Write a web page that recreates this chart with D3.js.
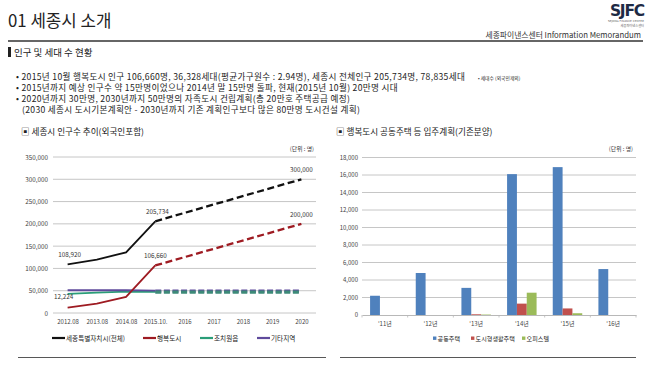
<!DOCTYPE html>
<html><head><meta charset="utf-8">
<script src="https://cdn.jsdelivr.net/npm/d3@7"></script>
<style>
html,body{margin:0;padding:0;background:#fff;}
svg{display:block;font-family:"Noto Sans CJK KR","Noto Sans",sans-serif;}
</style></head>
<body><svg id="c" width="654" height="367"></svg>
<script>
// ---------- data ----------
const lineCats = ["2012.08","2013.08","2014.08","2015.10.","2016","2017","2018","2019","2020"];
const lineTicks = [0,50000,100000,150000,200000,250000,300000,350000];
const seriesNames = ["세종특별자치시(전체)","행복도시","조치원읍","기타지역"];
const totalActual = [108920,120000,136000,205734];
const totalPlanCats = ["2015.10.","2020"];
const totalPlan = [205734,300000];
const happyActual = [12224,21000,36000,106660];
const happyPlan = [106660,200000];
const jochiwonActual = [43000,45500,48000,47500];
const jochiwonPlan = [47000,47000];
const otherActual = [51000,51000,51500,50000];
const otherPlan = [49000,49000];
const actualCats = ["2012.08","2013.08","2014.08","2015.10."];

const barCats = ["'11년","'12년","'13년","'14년","'15년","'16년"];
const barSeries = ["공동주택","도시형생활주택","오피스텔"];
const apartment = [2200,4800,3100,16100,16900,5250];
const urbanHousing = [0,0,80,1300,750,0];
const officetel = [0,0,50,2550,200,0];
const barTicks = [0,2000,4000,6000,8000,10000,12000,14000,16000,18000];

// ---------- setup ----------
const svg = d3.select("#c");
const KR = '"Noto Sans CJK KR","Noto Sans",sans-serif';
svg.append("rect").attr("width",654).attr("height",367).attr("fill","#fff");

// header
svg.append("text").attr("x",8).attr("y",27).attr("font-size",16.8).attr("fill","#222")
  .text("01 세종시 소개");
svg.append("line").attr("x1",8).attr("x2",643).attr("y1",41).attr("y2",41)
  .attr("stroke","#333").attr("stroke-width",1.3);
svg.append("text").attr("x",641).attr("y",37.5).attr("text-anchor","end")
  .attr("font-size",7.8).attr("fill","#333").text("세종파이낸스센터  Information Memorandum");
// logo
svg.append("text").attr("x",644).attr("y",15.5).attr("text-anchor","end")
  .attr("font-size",15.5).attr("font-weight","900").attr("fill","#1d2a44")
  .attr("font-family","DejaVu Sans").attr("letter-spacing",-1.2).text("SJFC");
svg.append("text").attr("x",644).attr("y",22.2).attr("text-anchor","end")
  .attr("font-size",2.8).attr("fill","#666").attr("font-family","DejaVu Sans").text("SEJONG FINANCE CENTER");
svg.append("text").attr("x",644).attr("y",26.8).attr("text-anchor","end")
  .attr("font-size",3.2).attr("fill","#666").text("세종파이낸스센터");

// section heading
svg.append("rect").attr("x",8).attr("y",47).attr("width",3).attr("height",10).attr("fill","#222");
svg.append("text").attr("x",14).attr("y",56).attr("font-size",9.5).attr("fill","#222")
  .text("인구 및 세대 수 현황");

// bullets
const bullets = [
  {x:16,y:80,t:"• 2015년 10월 행복도시 인구 106,660명, 36,328세대(평균가구원수 : 2.94명), 세종시 전체인구 205,734명, 78,835세대"},
  {x:16,y:91,t:"• 2015년까지 예상 인구수 약 15만명이었으나 2014년 말 15만명 돌파, 현재(2015년 10월) 20만명 시대"},
  {x:16,y:102,t:"• 2020년까지 30만명, 2030년까지 50만명의 자족도시 건립계획(총 20만호 주택공급 예정)"},
  {x:22,y:113,t:"(2030 세종시 도시기본계획안 - 2030년까지 기존 계획인구보다 많은 80만명 도시건설 계획)"}
];
svg.selectAll("text.bl").data(bullets).join("text").attr("class","bl")
  .attr("x",d=>d.x).attr("y",d=>d.y).attr("font-size",8.6).attr("letter-spacing",0.32)
  .attr("fill","#222").text(d=>d.t);
svg.append("text").attr("x",478).attr("y",80).attr("font-size",4.8).attr("fill","#222")
  .text("• 세대수 (외국인제외)");

// ---------- line chart ----------
svg.append("text").attr("x",21).attr("y",135).attr("font-size",8.6).attr("fill","#222")
  .text("▣ 세종시 인구수 추이(외국인포함)");
svg.append("text").attr("x",314).attr("y",151).attr("text-anchor","end").attr("font-size",5.8).attr("fill","#333")
  .text("(단위 : 명)");

const lx = d3.scalePoint().domain(lineCats).range([53,316]).padding(0.5);
const ly = d3.scaleLinear().domain([0,350000]).range([313,157]);

const gL = svg.append("g");
gL.selectAll("line.grid").data(lineTicks).join("line").attr("class","grid")
  .attr("x1",53).attr("x2",316).attr("y1",d=>ly(d)).attr("y2",d=>ly(d))
  .attr("stroke","#b8b8b8").attr("stroke-width",0.8);
const yAxL = gL.append("g").attr("transform","translate(53,0)")
  .call(d3.axisLeft(ly).tickValues(lineTicks).tickSize(0).tickPadding(5).tickFormat(d3.format(",")));
yAxL.select(".domain").remove();
yAxL.selectAll("text").attr("font-size",6.3).attr("fill","#444").attr("font-family",KR);
const xAxL = gL.append("g").attr("transform","translate(0,313)")
  .call(d3.axisBottom(lx).tickSize(0).tickPadding(7));
xAxL.select(".domain").remove();
xAxL.selectAll("text").attr("font-size",6).attr("fill","#444").attr("font-family",KR);

const lineColors = ["#111111","#9e1b22","#2a9d78","#5f4a9c"];
const lineGen = d3.line().x(d=>lx(d.c)).y(d=>ly(d.v));
const mk = (cats,vals)=>vals.map((v,i)=>({c:cats[i],v}));
const actualSets = [totalActual,happyActual,jochiwonActual,otherActual];
const planSets = [totalPlan,happyPlan,otherPlan,jochiwonPlan];
const planColors = [lineColors[0],lineColors[1],lineColors[3],"#3d8a78"];
// dashed plans
planSets.forEach((p,i)=>{
  gL.append("path").attr("d",lineGen(mk(totalPlanCats,p))).attr("fill","none")
    .attr("stroke",planColors[i]).attr("stroke-width",i<2?2.3:3.2)
    .attr("stroke-dasharray",i<2?"7,3.6":"6,2.6");
});
// actual (draw order: teal, purple, red, black)
[2,3,1,0].forEach(i=>{
  gL.append("path").attr("d",lineGen(mk(actualCats,actualSets[i]))).attr("fill","none")
    .attr("stroke",lineColors[i]).attr("stroke-width",1.8);
});
// value labels
const lineLabels = [
  {c:"2012.08",v:totalActual[0],dy:-7,dx:2},
  {c:"2012.08",v:happyActual[0],dy:-9,dx:-4},
  {c:"2015.10.",v:totalActual[3],dy:-7,dx:2},
  {c:"2015.10.",v:happyActual[3],dy:-7,dx:0},
  {c:"2020",v:totalPlan[1],dy:-7,dx:0},
  {c:"2020",v:happyPlan[1],dy:-7,dx:0}
];
gL.selectAll("text.vl").data(lineLabels).join("text").attr("class","vl")
  .attr("x",d=>lx(d.c)+d.dx).attr("y",d=>ly(d.v)+d.dy).attr("text-anchor","middle")
  .attr("font-size",6.3).attr("fill","#333").text(d=>d3.format(",")(d.v));

// legend
const legL = [{x:52,tx:66},{x:143,tx:157},{x:200,tx:214},{x:257,tx:271}];
seriesNames.forEach((n,i)=>{
  svg.append("line").attr("x1",legL[i].x).attr("x2",legL[i].x+13).attr("y1",338).attr("y2",338)
    .attr("stroke",lineColors[i]).attr("stroke-width",2.2);
  svg.append("text").attr("x",legL[i].tx).attr("y",340.5).attr("font-size",6.6).attr("fill","#222").text(n);
});

// ---------- bar chart ----------
svg.append("text").attr("x",336).attr("y",135).attr("font-size",8.6).attr("fill","#222")
  .text("▣ 행복도시 공동주택 등 입주계획(기존분양)");
svg.append("text").attr("x",633).attr("y",151).attr("text-anchor","end").attr("font-size",5.8).attr("fill","#333")
  .text("(단위 : 명)");

const bx0 = d3.scaleBand().domain(barCats).range([362,636]);
const groupW = 29.5;
const bx1 = d3.scaleBand().domain(barSeries).range([0,groupW]);
const by = d3.scaleLinear().domain([0,18000]).range([315,157.5]);
const barColors = ["#4f81bd","#c0504d","#9bbb59"];
const barData = [apartment,urbanHousing,officetel];

const gB = svg.append("g");
gB.selectAll("line.grid").data(barTicks.slice(1)).join("line").attr("class","grid")
  .attr("x1",362).attr("x2",636).attr("y1",d=>by(d)).attr("y2",d=>by(d))
  .attr("stroke","#b8b8b8").attr("stroke-width",0.8);
const yAxB = gB.append("g").attr("transform","translate(361,0)")
  .call(d3.axisLeft(by).tickValues(barTicks).tickSize(0).tickPadding(3).tickFormat(d3.format(",")));
yAxB.select(".domain").remove();
yAxB.selectAll("text").attr("font-size",6).attr("fill","#444").attr("font-family",KR);

barCats.forEach((c,ci)=>{
  const off = bx0(c) + (bx0.bandwidth()-groupW)/2;
  barSeries.forEach((s,si)=>{
    const v = barData[si][ci];
    if(v<=0) return;
    gB.append("rect").attr("x",off+bx1(s)).attr("width",bx1.bandwidth())
      .attr("y",by(v)).attr("height",by(0)-by(v)).attr("fill",barColors[si]);
  });
});
const xAxB = gB.append("g").attr("transform","translate(0,315)")
  .call(d3.axisBottom(bx0).tickSize(0).tickPadding(7));
xAxB.select(".domain").attr("stroke","#b8b8b8");
xAxB.selectAll("text").attr("font-size",6).attr("fill","#444").attr("font-family",KR);
gB.selectAll("line.tk").data(barCats.concat(["end"])).join("line").attr("class","tk")
  .attr("x1",(d,i)=>362+i*bx0.bandwidth()).attr("x2",(d,i)=>362+i*bx0.bandwidth())
  .attr("y1",315).attr("y2",317.5).attr("stroke","#b8b8b8").attr("stroke-width",0.8);

const legB = [{x:433},{x:471},{x:522}];
barSeries.forEach((s,i)=>{
  svg.append("rect").attr("x",legB[i].x).attr("y",336.5).attr("width",3.4).attr("height",3.4).attr("fill",barColors[i]);
  svg.append("text").attr("x",legB[i].x+4.6).attr("y",340.5).attr("font-size",6.1).attr("fill","#222").text(s);
});

// bottom rules
svg.append("line").attr("x1",18).attr("x2",326).attr("y1",357.5).attr("y2",357.5).attr("stroke","#444").attr("stroke-width",0.9);
svg.append("line").attr("x1",340).attr("x2",636).attr("y1",357.5).attr("y2",357.5).attr("stroke","#444").attr("stroke-width",0.9);
</script></body></html>
